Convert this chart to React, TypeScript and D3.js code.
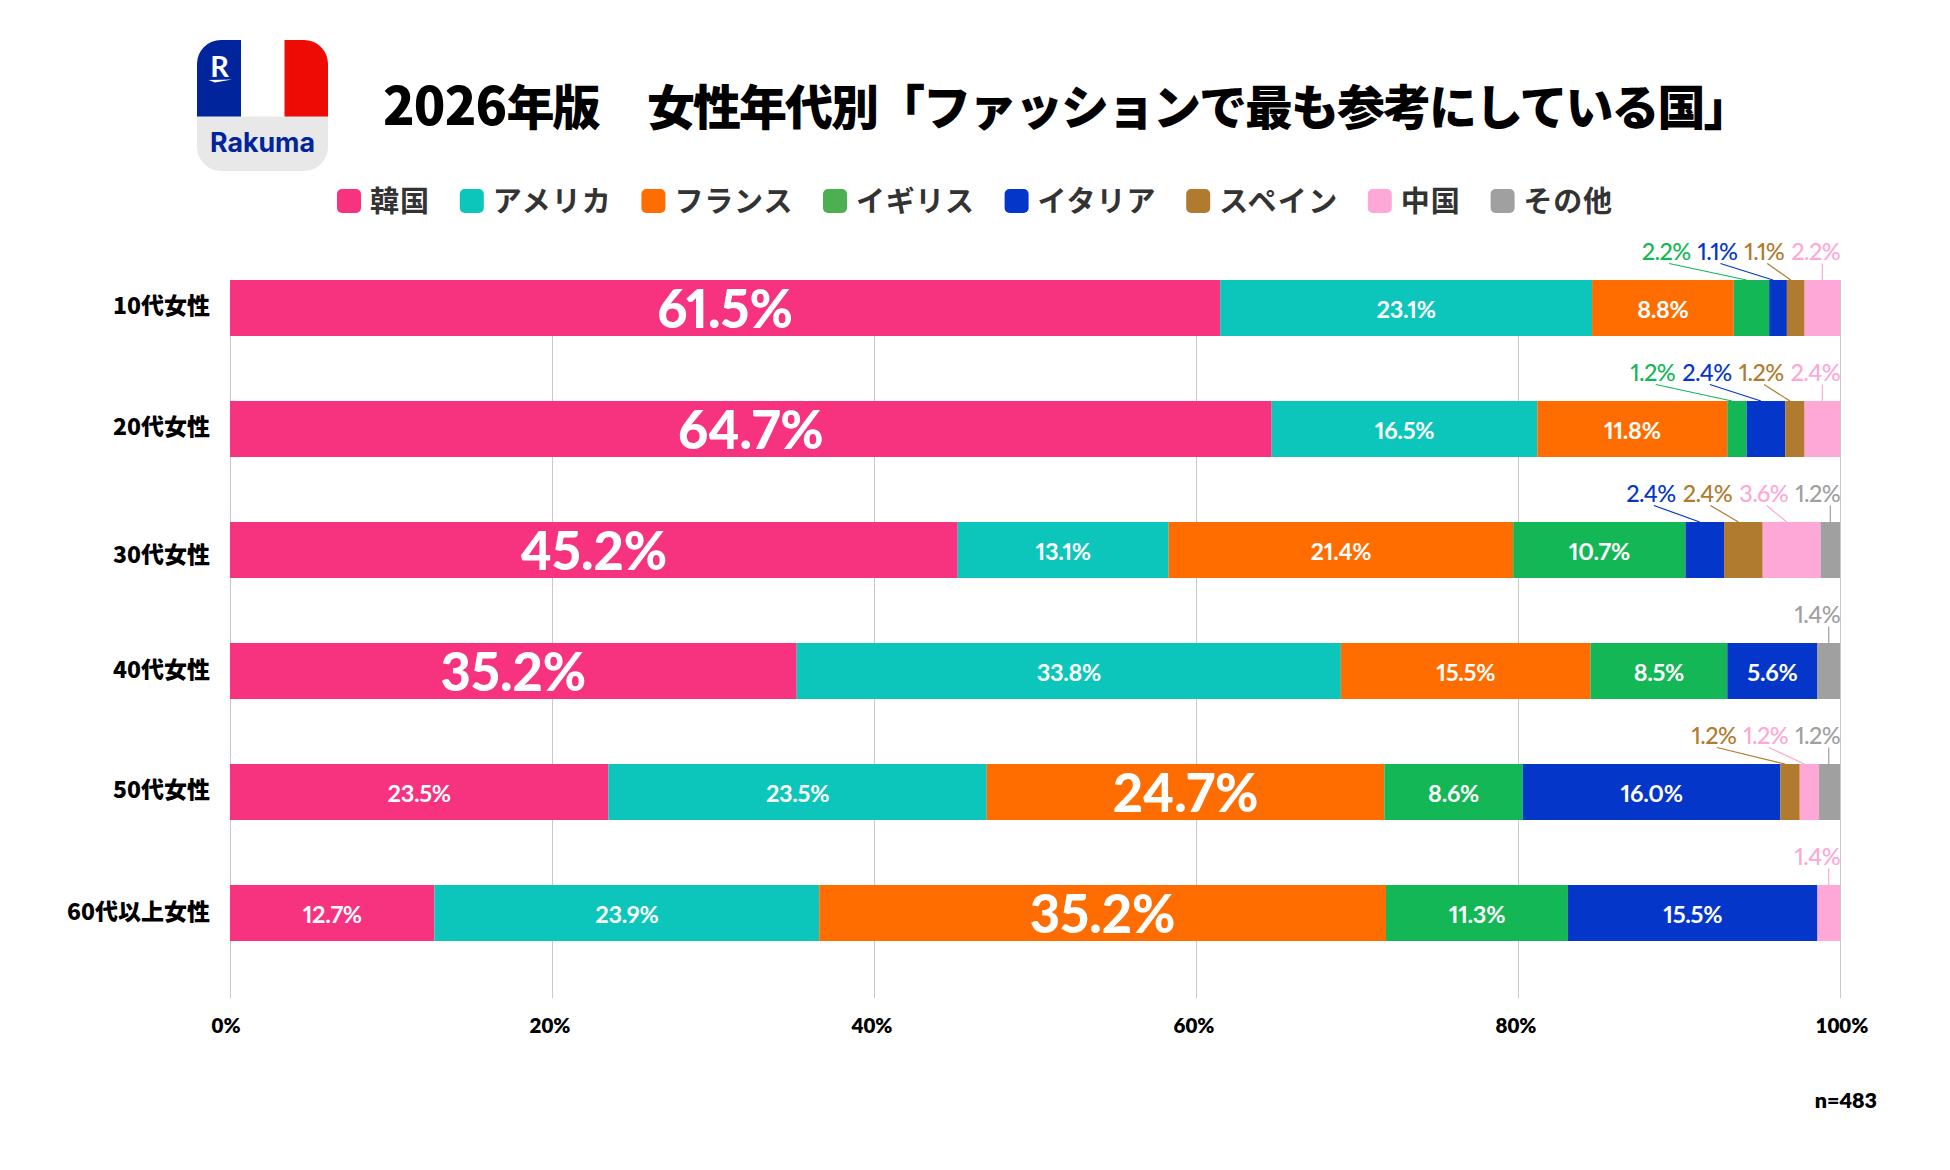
import * as d3 from "d3";

const ageGroups = ["10代女性", "20代女性", "30代女性", "40代女性", "50代女性", "60代以上女性"];
const countries = ["韓国", "アメリカ", "フランス", "イギリス", "イタリア", "スペイン", "中国", "その他"];

const korea = [61.5, 64.7, 45.2, 35.2, 23.5, 12.7];
const usa = [23.1, 16.5, 13.1, 33.8, 23.5, 23.9];
const france = [8.8, 11.8, 21.4, 15.5, 24.7, 35.2];
const uk = [2.2, 1.2, 10.7, 8.5, 8.6, 11.3];
const italy = [1.1, 2.4, 2.4, 5.6, 16.0, 15.5];
const spain = [1.1, 1.2, 2.4, 0, 1.2, 0];
const china = [2.2, 2.4, 3.6, 0, 1.2, 1.4];
const other = [0, 0, 1.2, 1.4, 1.2, 0];

const seriesValues = [korea, usa, france, uk, italy, spain, china, other];
const barColors = ["#F73380", "#0CC6BC", "#FF6D00", "#13B755", "#0437C9", "#B07A2F", "#FDA8D6", "#A0A0A0"];
const legendColors = ["#F73380", "#0CC6BC", "#FF6D00", "#4CAF50", "#0437C9", "#B07A2F", "#FDA8D6", "#A0A0A0"];
const xTicks = [0, 20, 40, 60, 80, 100];

const JP = "'Noto Sans CJK JP', sans-serif";
const NUM = "Lato, sans-serif";

const W = 1950;
const H = 1170;
// row labels sit slightly off the bar centre in the original
const rowLabelNudge = [5.5, 5.5, 13, 7, 5.5, 7];

const x = d3.scaleLinear().domain([0, 100]).range([230, 1840]).clamp(true);
const y = d3.scaleBand<string>().domain(ageGroups).range([280, 941]).paddingInner(65 / 121).paddingOuter(0);

const table = ageGroups.map((_, i) => {
  const row: Record<string, number> = {};
  countries.forEach((c, k) => { row[c] = seriesValues[k][i]; });
  return row;
});
const stacked = d3.stack<Record<string, number>>().keys(countries)(table);

const numStyle = { fontFeatureSettings: "'pnum'", fontVariantNumeric: "proportional-nums" } as const;
const OUT_SIZE = 23.5;
const OUT_SPACING = -0.6;

// canvas measureText ignores pnum, so measure with a throwaway svg text
function labelWidth(s: string) {
  const svg = d3.select(document.body).append("svg").attr("width", 0).attr("height", 0);
  const t = svg.append("text")
    .attr("font-family", NUM).attr("font-weight", 500).attr("font-size", OUT_SIZE)
    .attr("letter-spacing", OUT_SPACING)
    .style("font-feature-settings", "'pnum'").style("font-variant-numeric", "proportional-nums")
    .text(s);
  const w = (t.node() as SVGTextElement).getComputedTextLength();
  svg.remove();
  return w;
}

const pct = (v: number) => `${v.toFixed(1)}%`;

function Logo() {
  return (
    <g>
      <clipPath id="logoClip"><rect x={197} y={40} width={131} height={131} rx={24} /></clipPath>
      <g clipPath="url(#logoClip)">
        <rect x={197} y={116} width={131} height={55} fill="#E8E8E8" />
        <rect x={197} y={40} width={44} height={76.5} fill="#00249C" />
        <rect x={241} y={40} width={43.5} height={76.5} fill="#fff" />
        <rect x={284.5} y={40} width={43.5} height={76.5} fill="#EE0A05" />
      </g>
      <text x={219.5} y={77} textAnchor="middle" fontFamily={NUM} fontWeight={700} fontSize={29} fill="#fff">R</text>
      <path d="M208.5 80 L232 79.4 L215 82.5 Z" fill="#fff" />
      <text x={210} y={152} textLength={105} lengthAdjust="spacingAndGlyphs" fontFamily="Inter, sans-serif" fontWeight={700} fontSize={27} fill="#00249C">Rakuma</text>
    </g>
  );
}

function Legend() {
  const charW = 29.4;
  let cursor = 337;
  return (
    <g>
      {countries.map((c, i) => {
        const sx = cursor;
        cursor += 34 + c.length * charW + 30;
        return (
          <g key={c}>
            <rect x={sx} y={189} width={24} height={24} rx={5} fill={legendColors[i]} />
            <text x={sx + 33} y={212} fontFamily={JP} fontWeight={700} fontSize={29} fill="#333"
              textLength={c.length * 29.5} lengthAdjust="spacing">{c}</text>
          </g>
        );
      })}
    </g>
  );
}

export default function App() {
  return (
    <div style={{ position: "absolute", left: 0, top: 0 }}>
      <svg width={W} height={H} viewBox={`0 0 ${W} ${H}`} style={{ display: "block", background: "#fff" }}>
        <Logo />
        <text x={383} y={125} fontFamily={JP} fontWeight={900} fontSize={48} letterSpacing={-2} fill="#000">
          <tspan fontSize={52} letterSpacing={-0.8}>2026</tspan>年版
        </text>
        <text x={647} y={125} fontFamily={JP} fontWeight={900} fontSize={48} letterSpacing={-2} fill="#000">
          女性年代別「ファッションで最も参考にしている国」
        </text>
        <Legend />

        {xTicks.map((t) => (
          <line key={t} x1={x(t) + 0.5} x2={x(t) + 0.5} y1={280} y2={998} stroke="#C8C8C8" strokeWidth={1} />
        ))}

        {ageGroups.map((g, i) => (
          <text key={g} x={210} y={y(g)! + y.bandwidth() / 2 + rowLabelNudge[i]} textAnchor="end" fontFamily={JP} fontWeight={900} fontSize={23} fill="#000">{g}</text>
        ))}

        {stacked.map((s, k) => (
          <g key={s.key} fill={barColors[k]}>
            {s.map((d, i) => {
              // rounded labels can sum to 99.9, the bar still runs to the end
              const end = d[1] >= 99.8 ? x(100) : x(d[1]);
              return <rect key={i} x={x(d[0])} y={y(ageGroups[i])} width={end - x(d[0])} height={y.bandwidth()} />;
            })}
          </g>
        ))}

        {ageGroups.map((g, i) => {
          const top = y(g)!;
          const mid = top + y.bandwidth() / 2;
          const rowValues = seriesValues.map((v) => v[i]);
          const rowMax = d3.max(rowValues)!;
          const small = stacked.map((s, k) => ({ k, d: s[i], v: rowValues[k] })).filter((e) => e.v > 0 && e.v < 5);
          let right = x(100);
          const placed = [...small].reverse().map((e, pos) => {
            const label = pct(e.v);
            const w = labelWidth(label);
            const lx = right - w;
            right = lx - 7;
            const segMid = (x(e.d[0]) + x(e.d[1])) / 2;
            return { ...e, label, lx, w, segMid, last: pos === 0 };
          });
          return (
            <g key={g}>
              {stacked.map((s, k) => {
                const v = rowValues[k];
                if (v < 5) return null;
                const cx = (x(s[i][0]) + x(s[i][1])) / 2;
                const big = v === rowMax;
                return (
                  <text key={k} x={cx} y={big ? mid + 20 : mid + 10} textAnchor="middle" fontFamily={NUM}
                    fontWeight={big ? 900 : 700} fontSize={big ? 52.5 : 23.5} letterSpacing={big ? 0 : -0.3} style={numStyle} fill="#fff">{pct(v)}</text>
                );
              })}
              {placed.map((e) => (
                <g key={e.k}>
                  <text x={e.lx} y={top - 20} fontFamily={NUM} fontWeight={500} fontSize={OUT_SIZE} letterSpacing={OUT_SPACING} style={numStyle} fill={barColors[e.k]}>{e.label}</text>
                  <line
                    x1={e.last ? e.segMid : e.lx + e.w / 2 + 3}
                    x2={e.last ? e.segMid : e.segMid - 5}
                    y1={top - 16.5}
                    y2={top}
                    stroke={barColors[e.k]}
                    strokeWidth={1.2}
                  />
                </g>
              ))}
            </g>
          );
        })}

        {xTicks.map((t) => (
          <text key={t} x={x(t) + (t === 0 ? -4 : t === 100 ? 2 : -2)} y={1033} textAnchor="middle" fontFamily={NUM} fontWeight={800} fontSize={20.5} fill="#000">{t}%</text>
        ))}

        <text x={1877} y={1108} textAnchor="end" fontFamily={NUM} fontWeight={800} fontSize={21.5} fill="#000">n=483</text>
      </svg>
    </div>
  );
}
